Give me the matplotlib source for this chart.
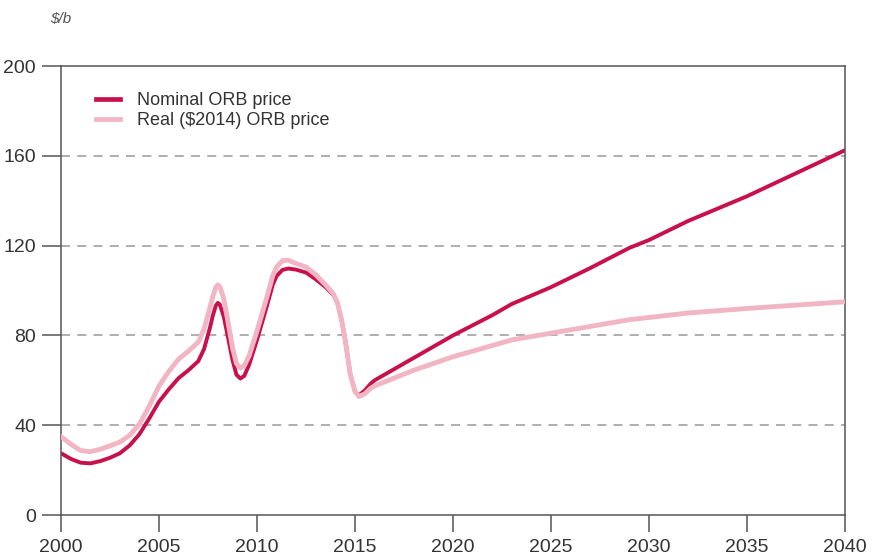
import matplotlib
matplotlib.use("Agg")
import matplotlib.pyplot as plt
from matplotlib.lines import Line2D

plt.rcParams["font.family"] = ["Liberation Sans", "DejaVu Sans"]

# nominal ORB price, $/b
nominal_years = [2000.0, 2000.5, 2001.0, 2001.5, 2002.0, 2002.5, 2003.0, 2003.5,
                 2004.0, 2004.5, 2005.0, 2005.5, 2006.0, 2006.5, 2007.0, 2007.3,
                 2007.6, 2007.75, 2007.9, 2008.0, 2008.1, 2008.3, 2008.5, 2008.75,
                 2008.95, 2009.15, 2009.35, 2009.6, 2010.0, 2010.5, 2010.8, 2011.0,
                 2011.3, 2011.6, 2012.0, 2012.5, 2013.0, 2013.5, 2013.9, 2014.1,
                 2014.3, 2014.5, 2014.75, 2015.0, 2015.2, 2015.5, 2015.8, 2016.0,
                 2017, 2018, 2019, 2020, 2021, 2022, 2023, 2025, 2027, 2029, 2030,
                 2032, 2035, 2040]
nominal_price = [27.5, 25.0, 23.3, 23.0, 24.0, 25.5, 27.5, 31.0,
                 36.0, 43.0, 50.5, 56.0, 61.0, 64.5, 68.5, 74.0,
                 83.5, 89.0, 93.3, 94.5, 93.8, 88.5, 80.0, 69.0,
                 62.5, 60.8, 62.0, 67.0, 78.0, 93.0, 102.5, 106.5,
                 109.2, 109.8, 109.3, 108.0, 105.0, 101.5, 98.0, 94.5,
                 87.5, 78.0, 63.0, 55.0, 53.3, 55.5, 58.5, 60.0,
                 65.0, 70.0, 75.0, 80.0, 84.5, 89.0, 94.0, 101.5, 110.0, 119.0, 122.5,
                 131.0, 142.0, 162.5]

# real ($2014) ORB price, $/b
real_years = [2000.0, 2000.5, 2001.0, 2001.5, 2002.0, 2002.5, 2003.0, 2003.5,
              2004.0, 2004.5, 2005.0, 2005.5, 2006.0, 2006.5, 2007.0, 2007.3,
              2007.6, 2007.75, 2007.9, 2008.0, 2008.1, 2008.3, 2008.5, 2008.75,
              2008.95, 2009.15, 2009.35, 2009.6, 2010.0, 2010.5, 2010.8, 2011.0,
              2011.3, 2011.6, 2012.0, 2012.5, 2013.0, 2013.5, 2013.9, 2014.1,
              2014.3, 2014.5, 2014.75, 2015.0, 2015.2, 2015.5, 2015.8, 2016.0,
              2017, 2018, 2019, 2020, 2021, 2022, 2023, 2025, 2027, 2029, 2030,
              2032, 2035, 2040]
real_price = [35.0, 31.5, 28.7, 28.2, 29.3, 30.8, 32.5, 35.5,
              40.5, 48.5, 57.5, 64.0, 69.5, 73.0, 77.0, 83.0,
              92.5, 97.5, 101.5, 102.5, 101.8, 96.5, 87.0, 74.5,
              67.5, 65.5, 66.5, 71.0, 82.0, 97.0, 106.5, 110.5,
              113.3, 113.5, 112.0, 110.5, 107.0, 102.5, 98.5, 94.5,
              87.5, 78.0, 63.0, 55.0, 52.8, 54.0, 56.5, 57.5,
              61.0, 64.5, 67.5, 70.5, 73.0, 75.5, 78.0, 81.0, 84.0, 87.0, 88.0,
              90.0, 92.0, 95.0]

x_ticks = [2000, 2005, 2010, 2015, 2020, 2025, 2030, 2035, 2040]
y_ticks = [0, 40, 80, 120, 160, 200]

NOMINAL = "#c8114c"
REAL = "#f2b5c4"
AXIS = "#555555"
TEXT = "#333333"

fig = plt.figure(figsize=(8.72, 5.57), dpi=100)
ax = fig.add_axes([0.070, 0.0754, 0.899, 0.806])

for y in y_ticks[1:-1]:
    ax.axhline(y, color="#a8a8a8", lw=1.3, ls=(0, (5, 4)), zorder=1)

ax.plot(nominal_years, nominal_price, color=NOMINAL, lw=2.8, solid_capstyle="round",
        solid_joinstyle="round", zorder=2)
ax.plot(real_years, real_price, color=REAL, lw=3.5, solid_capstyle="round",
        solid_joinstyle="round", zorder=3)

ax.set_xlim(2000, 2040)
ax.set_ylim(0, 200)
ax.set_xticks(x_ticks)
ax.set_yticks(y_ticks)
for s in ax.spines.values():
    s.set_color(AXIS)
    s.set_linewidth(1.1)
ax.tick_params(axis="both", direction="out", color=AXIS, width=1.1,
               labelsize=14, labelcolor=TEXT)
ax.tick_params(axis="x", length=12, pad=5)
ax.tick_params(axis="y", length=14, pad=4)

handles = [Line2D([], [], color=NOMINAL, lw=3.4),
           Line2D([], [], color=REAL, lw=3.4)]
ax.legend(handles, ["Nominal ORB price", "Real ($2014) ORB price"],
          loc="upper left", bbox_to_anchor=(0.033, 0.962), frameon=False,
          fontsize=13, handlelength=1.35, handletextpad=0.9, labelspacing=0.15,
          borderpad=0, labelcolor=TEXT)

fig.text(0.057, 0.965, "$/b", fontsize=11, style="italic", color="#555555",
         va="center")

fig.savefig("out.png", dpi=100, facecolor="white")
